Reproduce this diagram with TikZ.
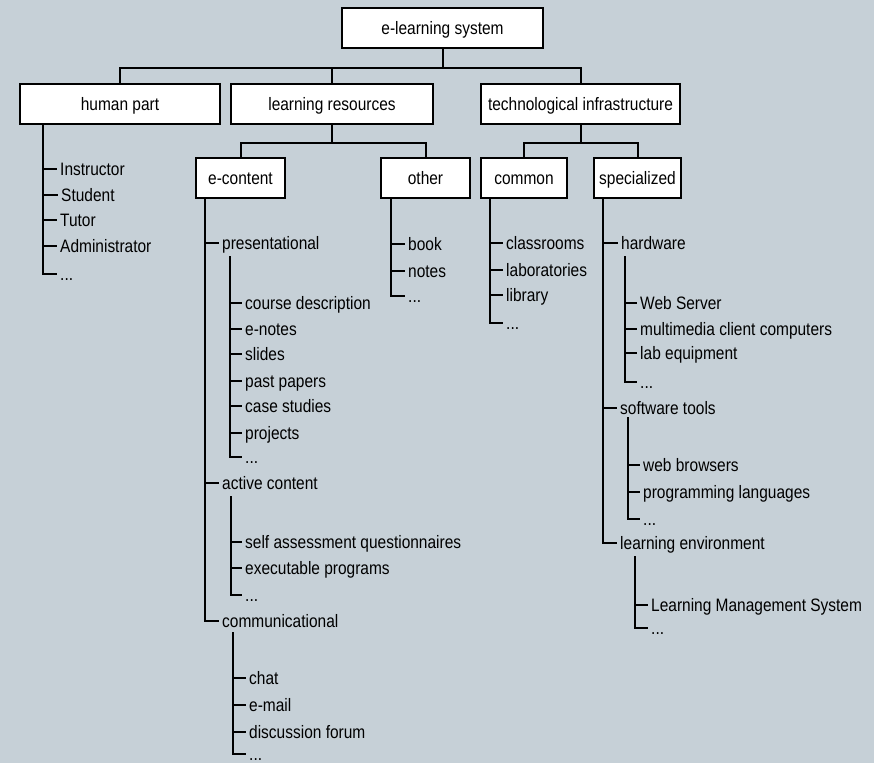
\documentclass[tikz,border=0pt]{standalone}
\usepackage{fontspec}
\setmainfont{Liberation Sans}[FakeStretch=0.86]
\definecolor{bg}{RGB}{198,208,215}
\begin{document}
\begin{tikzpicture}[x=1pt,y=-1pt,
  txt/.style={font=\fontsize{18}{20}\selectfont, text height=13pt, text depth=0pt},
  box/.style={txt, draw=black, line width=2pt, fill=white, minimum height=40pt, inner sep=0pt},
  leaf/.style={txt, anchor=west, inner xsep=4pt, inner ysep=0pt},
  wire/.style={line width=2pt, line cap=rect}
]
% canvas
\fill[bg] (0,0) rectangle (874,763);
\useasboundingbox (0,0) rectangle (874,763);

% boxes
\node[box, minimum width=201pt] (root) at (442.5,28) {e-learning system};
\node[box, minimum width=200pt] (hp) at (120,104) {human part};
\node[box, minimum width=202pt] (lr) at (332,104) {learning resources};
\node[box, minimum width=199pt] (ti) at (580.5,104) {technological infrastructure};
\node[box, minimum width=89pt] (ec) at (240.5,178) {e-content};
\node[box, minimum width=89pt] (ot) at (425.5,178) {other};
\node[box, minimum width=86pt] (cm) at (524,178) {common};
\node[box, minimum width=87pt] (sp) at (637.5,178) {specialized};

% box connectors
\foreach \c in {hp,lr,ti} \draw[wire] (root.south) -- ++(0,19) -| (\c.north);
\foreach \c in {ec,ot} \draw[wire] (lr.south) -- ++(0,18) -| (\c.north);
\foreach \c in {cm,sp} \draw[wire] (ti.south) -- ++(0,18) -| (\c.north);

% human part
\node[leaf] (hp1) at (56,169) {Instructor};
\node[leaf] (hp2) at (57,195) {Student};
\node[leaf] (hp3) at (56,220) {Tutor};
\node[leaf] (hp4) at (56,246) {Administrator};
\node[leaf] (hp5) at (56,274) {...};
\foreach \i in {1,...,5} \draw[wire] ([xshift=24pt]hp.south west) |- (hp\i.west);

% e-content
\node[leaf] (pr) at (218,243) {presentational};
\node[leaf] (ac) at (218,483) {active content};
\node[leaf] (co) at (218,621) {communicational};
\foreach \n in {pr,ac,co} \draw[wire] ([xshift=10pt]ec.south west) |- (\n.west);

\node[leaf] (pr1) at (241,303) {course description};
\node[leaf] (pr2) at (241,329) {e-notes};
\node[leaf] (pr3) at (241,354) {slides};
\node[leaf] (pr4) at (241,381) {past papers};
\node[leaf] (pr5) at (241,406) {case studies};
\node[leaf] (pr6) at (241,433) {projects};
\node[leaf] (pr7) at (241,457) {...};
\foreach \i in {1,...,7} \draw[wire] ([xshift=12pt,yshift=-7.5pt]pr.south west) |- (pr\i.west);

\node[leaf] (ac1) at (241,542) {self assessment questionnaires};
\node[leaf] (ac2) at (241,568) {executable programs};
\node[leaf] (ac3) at (241,595) {...};
\foreach \i in {1,...,3} \draw[wire] ([xshift=13pt,yshift=-7.5pt]ac.south west) |- (ac\i.west);

\node[leaf] (co1) at (245,678) {chat};
\node[leaf] (co2) at (245,705) {e-mail};
\node[leaf] (co3) at (245,732) {discussion forum};
\node[leaf] (co4) at (245,754) {...};
\foreach \i in {1,...,4} \draw[wire] ([xshift=15pt,yshift=-5.5pt]co.south west) |- (co\i.west);

% other
\node[leaf] (ot1) at (404,244) {book};
\node[leaf] (ot2) at (404,271) {notes};
\node[leaf] (ot3) at (404,296) {...};
\foreach \i in {1,...,3} \draw[wire] ([xshift=11pt]ot.south west) |- (ot\i.west);

% common
\node[leaf] (cm1) at (502,243) {classrooms};
\node[leaf] (cm2) at (502,270) {laboratories};
\node[leaf] (cm3) at (502,295) {library};
\node[leaf] (cm4) at (502,323) {...};
\foreach \i in {1,...,4} \draw[wire] ([xshift=10pt]cm.south west) |- (cm\i.west);

% specialized
\node[leaf] (hw) at (617,243) {hardware};
\node[leaf] (sw) at (616,408) {software tools};
\node[leaf] (le) at (616,543) {learning environment};
\foreach \n in {hw,sw,le} \draw[wire] ([xshift=10pt]sp.south west) |- (\n.west);

\node[leaf] (hw1) at (636,303) {Web Server};
\node[leaf] (hw2) at (636,329) {multimedia client computers};
\node[leaf] (hw3) at (636,353) {lab equipment};
\node[leaf] (hw4) at (636,382) {...};
\foreach \i in {1,...,4} \draw[wire] ([xshift=8pt,yshift=-7.5pt]hw.south west) |- (hw\i.west);

\node[leaf] (sw1) at (639,465) {web browsers};
\node[leaf] (sw2) at (639,492) {programming languages};
\node[leaf] (sw3) at (639,519) {...};
\foreach \i in {1,...,3} \draw[wire] ([xshift=12pt,yshift=-3.5pt]sw.south west) |- (sw\i.west);

\node[leaf] (le1) at (647,605) {Learning Management System};
\node[leaf] (le2) at (647,628) {...};
\foreach \i in {1,...,2} \draw[wire] ([xshift=19pt,yshift=-7.5pt]le.south west) |- (le\i.west);
\end{tikzpicture}
\end{document}
